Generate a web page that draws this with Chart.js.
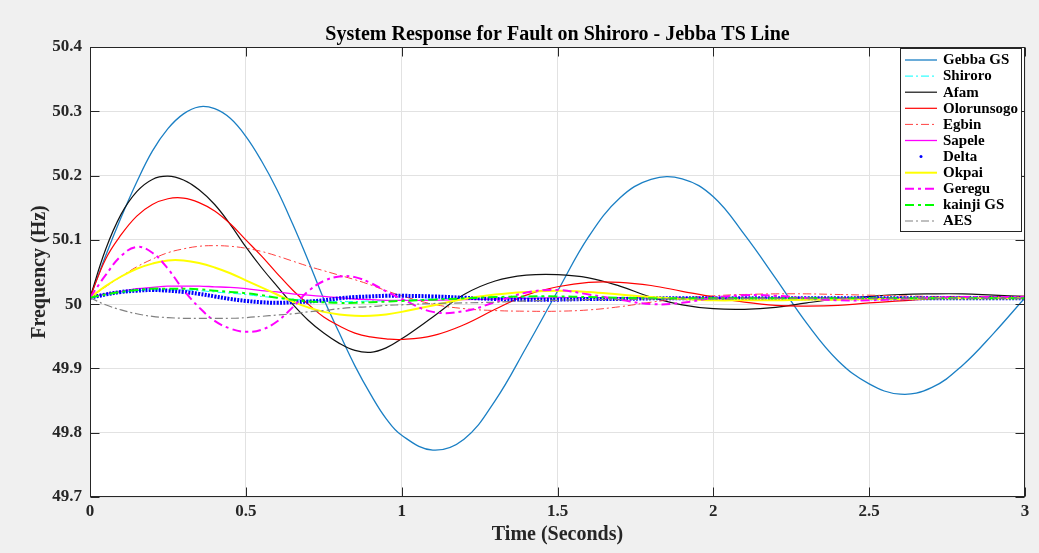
<!DOCTYPE html>
<html>
<head>
<meta charset="utf-8">
<script src="https://cdn.jsdelivr.net/npm/chart.js@4.4.1/dist/chart.umd.min.js"></script>
<style>
  html, body { margin: 0; padding: 0; background: #f0f0f0; }
  canvas { display: block; }
</style>
</head>
<body>
<canvas id="c" width="1039" height="553"></canvas>
<script>
// ---- data ----
const time = [0,0.05,0.1,0.15,0.2,0.25,0.3,0.35,0.4,0.45,0.5,0.55,0.6,0.65,0.7,0.75,0.8,0.85,0.9,0.95,1.0,
              1.1,1.2,1.3,1.4,1.5,1.6,1.7,1.8,1.9,2.0,2.1,2.2,2.3,2.4,2.5,2.6,2.7,2.8,2.9,3.0];

const gebbaGS = [50.01,50.075,50.135,50.19,50.238,50.273,50.296,50.307,50.304,50.289,50.261,50.223,50.178,50.125,50.068,50.008,49.955,49.904,49.86,49.822,49.796,
                 49.773,49.79,49.85,49.933,50.02,50.105,50.165,50.194,50.195,50.167,50.108,50.04,49.97,49.912,49.876,49.86,49.87,49.905,49.955,50.01];
const shiroro = [50.01,50.015,50.018,50.021,50.022,50.022,50.022,50.021,50.019,50.017,50.015,50.012,50.01,50.008,50.006,50.005,50.004,50.004,50.005,50.005,50.006,
                 50.008,50.009,50.01,50.011,50.011,50.01,50.01,50.009,50.009,50.009,50.009,50.009,50.009,50.009,50.009,50.009,50.009,50.009,50.009,50.009];
const afam = [50.01,50.085,50.14,50.175,50.194,50.199,50.193,50.178,50.155,50.124,50.089,50.057,50.028,50.0,49.975,49.955,49.939,49.928,49.925,49.932,49.946,
              49.98,50.015,50.036,50.045,50.046,50.041,50.028,50.011,49.999,49.993,49.992,49.995,50.002,50.008,50.012,50.015,50.016,50.016,50.014,50.012];
const olorunsogo = [50.01,50.07,50.108,50.137,50.155,50.164,50.165,50.158,50.145,50.125,50.1,50.075,50.048,50.022,50.0,49.98,49.966,49.955,49.949,49.946,49.945,
                    49.951,49.968,49.992,50.014,50.027,50.034,50.034,50.029,50.02,50.011,50.003,49.998,49.997,49.998,50.002,50.005,50.008,50.01,50.011,50.012];
const egbin = [50.01,50.027,50.043,50.058,50.07,50.08,50.086,50.09,50.091,50.09,50.087,50.082,50.075,50.067,50.059,50.052,50.045,50.038,50.03,50.021,50.013,
               50.0,49.993,49.99,49.989,49.989,49.991,49.996,50.003,50.009,50.013,50.015,50.016,50.016,50.015,50.014,50.013,50.012,50.012,50.012,50.012];
const sapele = [50.01,50.016,50.02,50.024,50.026,50.028,50.028,50.028,50.027,50.026,50.024,50.021,50.019,50.016,50.014,50.012,50.01,50.008,50.007,50.006,50.006,
                50.006,50.007,50.008,50.009,50.01,50.01,50.01,50.01,50.01,50.01,50.01,50.01,50.01,50.01,50.01,50.01,50.01,50.01,50.01,50.01];
const delta = [50.01,50.015,50.019,50.021,50.022,50.021,50.019,50.016,50.012,50.008,50.005,50.003,50.002,50.003,50.004,50.006,50.009,50.011,50.012,50.013,50.013,
               50.012,50.01,50.008,50.007,50.007,50.008,50.008,50.009,50.009,50.009,50.009,50.009,50.009,50.009,50.009,50.009,50.009,50.009,50.009,50.009];
const okpai = [50.01,50.028,50.043,50.055,50.063,50.068,50.068,50.064,50.057,50.048,50.037,50.026,50.015,50.004,49.995,49.988,49.984,49.982,49.982,49.984,49.988,
               49.998,50.008,50.015,50.019,50.021,50.019,50.015,50.011,50.008,50.006,50.006,50.006,50.007,50.007,50.008,50.008,50.009,50.009,50.009,50.009];
const geregu = [50.01,50.045,50.075,50.089,50.08,50.055,50.022,49.995,49.974,49.962,49.957,49.96,49.973,49.995,50.02,50.036,50.043,50.042,50.033,50.02,50.008,
                49.988,49.989,50.003,50.018,50.022,50.015,50.007,50.0,50.002,50.01,50.014,50.013,50.009,50.006,50.006,50.008,50.01,50.011,50.011,50.011];
const kainjiGS = [50.01,50.015,50.019,50.022,50.024,50.024,50.024,50.023,50.021,50.019,50.017,50.014,50.01,50.007,50.004,50.003,50.002,50.002,50.003,50.004,50.005,
                  50.007,50.009,50.011,50.012,50.012,50.011,50.01,50.009,50.009,50.009,50.009,50.009,50.009,50.009,50.009,50.009,50.009,50.009,50.009,50.009];
const aes = [50.01,49.999,49.991,49.985,49.981,49.979,49.978,49.978,49.978,49.978,49.979,49.981,49.983,49.985,49.988,49.99,49.993,49.995,49.996,49.998,49.999,
             50.001,50.002,50.003,50.005,50.006,50.007,50.007,50.008,50.008,50.008,50.009,50.009,50.009,50.009,50.009,50.009,50.009,50.009,50.009,50.009];

const seriesNames = ['Gebba GS','Shiroro','Afam','Olorunsogo','Egbin','Sapele','Delta','Okpai','Geregu','kainji GS','AES'];
const xTicks = [0,0.5,1,1.5,2,2.5,3];
const yTicks = [49.7,49.8,49.9,50,50.1,50.2,50.3,50.4];
const titleText = 'System Response for Fault on Shiroro - Jebba TS Line';
const xTitle = 'Time (Seconds)';
const yTitle = 'Frequency (Hz)';

// ---- build chart ----
const pts = ys => time.map((t, i) => ({x: t, y: ys[i]}));
const DD = [8, 3, 2, 3];
const seriesData = [
  {y: gebbaGS,   color: '#1a7fc4', w: 1.3, dash: []},
  {y: shiroro,   color: '#00ffff', w: 1,   dash: DD},
  {y: afam,      color: '#111111', w: 1.2, dash: []},
  {y: olorunsogo,color: '#ff0000', w: 1.2, dash: []},
  {y: egbin,     color: '#ff4040', w: 1,   dash: DD},
  {y: sapele,    color: '#ff00ff', w: 1.3, dash: []},
  {y: delta,     color: '#0000ff', w: 4,   dash: [2, 1.3], dot: true},
  {y: okpai,     color: '#ffff00', w: 2,   dash: []},
  {y: geregu,    color: '#ff00ff', w: 2,   dash: [9, 4, 3, 4]},
  {y: kainjiGS,  color: '#00ff00', w: 2,   dash: [9, 4, 3, 4]},
  {y: aes,       color: '#808080', w: 1.2, dash: DD}
];
const n = seriesData.length;
const datasets = seriesData.map((s, i) => ({
  label: seriesNames[i],
  data: pts(s.y),
  borderColor: s.color,
  backgroundColor: s.color,
  borderWidth: s.w,
  borderDash: s.dash,
  pointRadius: 0,
  tension: 0.4,
  fill: false,
  order: n - i,
  isDot: !!s.dot
}));

const serif = "'Liberation Serif', 'Times New Roman', serif";

const bgPlugin = {
  id: 'bg',
  beforeDraw(chart) {
    const {ctx, chartArea: a} = chart;
    ctx.save();
    ctx.fillStyle = '#f0f0f0';
    ctx.fillRect(0, 0, chart.width, chart.height);
    ctx.fillStyle = '#ffffff';
    ctx.fillRect(a.left, a.top, a.right - a.left, a.bottom - a.top);
    ctx.restore();
  }
};

const boxPlugin = {
  id: 'box',
  afterDraw(chart) {
    const {ctx, chartArea: a, scales} = chart;
    ctx.save();
    ctx.strokeStyle = '#262626';
    ctx.lineWidth = 1;
    const L = Math.round(a.left) + 0.5, R = Math.round(a.right) - 0.5;
    const T = Math.round(a.top) + 0.5, B = Math.round(a.bottom) - 0.5;
    ctx.strokeRect(L, T, R - L, B - T);
    const tl = 9;
    ctx.beginPath();
    yTicks.forEach(v => {
      const y = Math.round(scales.y.getPixelForValue(v)) + 0.5;
      ctx.moveTo(L, y); ctx.lineTo(L + tl, y);
      ctx.moveTo(R, y); ctx.lineTo(R - tl, y);
    });
    xTicks.forEach(v => {
      const x = Math.round(scales.x.getPixelForValue(v)) + 0.5;
      ctx.moveTo(x, B); ctx.lineTo(x, B - tl);
      ctx.moveTo(x, T); ctx.lineTo(x, T + tl);
    });
    ctx.stroke();
    ctx.restore();
  }
};

const legendPlugin = {
  id: 'mlegend',
  afterDraw(chart) {
    const {ctx, chartArea: a} = chart;
    const w = 121, h = 183;
    const x0 = a.right - 4 - w, y0 = a.top + 1;
    ctx.save();
    ctx.fillStyle = '#ffffff';
    ctx.fillRect(x0, y0, w, h);
    ctx.strokeStyle = '#262626';
    ctx.lineWidth = 1;
    ctx.strokeRect(Math.round(x0) + 0.5, Math.round(y0) + 0.5, w, h);
    ctx.font = 'bold 15px ' + serif;
    ctx.textBaseline = 'middle';
    ctx.textAlign = 'left';
    chart.data.datasets.forEach((ds, i) => {
      const y = y0 + 12 + i * 16.1;
      ctx.save();
      if (ds.isDot) {
        ctx.fillStyle = ds.borderColor;
        ctx.beginPath();
        ctx.arc(x0 + 21, y, 1.5, 0, Math.PI * 2);
        ctx.fill();
      } else {
        ctx.strokeStyle = ds.borderColor;
        ctx.lineWidth = Math.min(ds.borderWidth, 2);
        ctx.setLineDash(ds.borderDash);
        ctx.beginPath();
        ctx.moveTo(x0 + 5, y);
        ctx.lineTo(x0 + 37, y);
        ctx.stroke();
      }
      ctx.restore();
      ctx.fillStyle = '#000000';
      ctx.fillText(ds.label, x0 + 43, y + 0.5);
    });
    ctx.restore();
  }
};

const tickFont = {family: serif, size: 17, weight: 'bold'};

new Chart(document.getElementById('c'), {
  type: 'line',
  data: {datasets},
  options: {
    responsive: false,
    animation: false,
    devicePixelRatio: 1,
    layout: {padding: {left: 0, right: 14, top: 0, bottom: 0}},
    plugins: {
      legend: {display: false},
      tooltip: {enabled: false},
      title: {
        display: true,
        fullSize: false,
        text: titleText,
        color: '#000000',
        font: {family: serif, size: 20, weight: 'bold'},
        padding: {top: 23, bottom: 0}
      }
    },
    scales: {
      x: {
        type: 'linear',
        min: 0, max: 3,
        afterBuildTicks: s => { s.ticks = xTicks.map(v => ({value: v})); },
        afterFit: s => { s.height = 56; },
        ticks: {color: '#262626', font: tickFont, padding: 4, maxRotation: 0,
                callback: v => String(v)},
        grid: {color: '#e2e2e2', drawTicks: false},
        border: {display: false},
        title: {display: true, text: xTitle, color: '#262626',
                font: {family: serif, size: 20, weight: 'bold'}, padding: {top: 0, bottom: 6}}
      },
      y: {
        type: 'linear',
        min: 49.7, max: 50.4,
        afterBuildTicks: s => { s.ticks = yTicks.map(v => ({value: v})); },
        afterFit: s => { s.width = 90; },
        ticks: {color: '#262626', font: tickFont, padding: 8,
                callback: v => String(Math.round(v * 10) / 10)},
        grid: {color: '#e2e2e2', drawTicks: false},
        border: {display: false},
        title: {display: true, text: yTitle, color: '#262626',
                font: {family: serif, size: 20, weight: 'bold'}, padding: {top: 28, bottom: 0}}
      }
    }
  },
  plugins: [bgPlugin, boxPlugin, legendPlugin]
});
</script>
</body>
</html>
